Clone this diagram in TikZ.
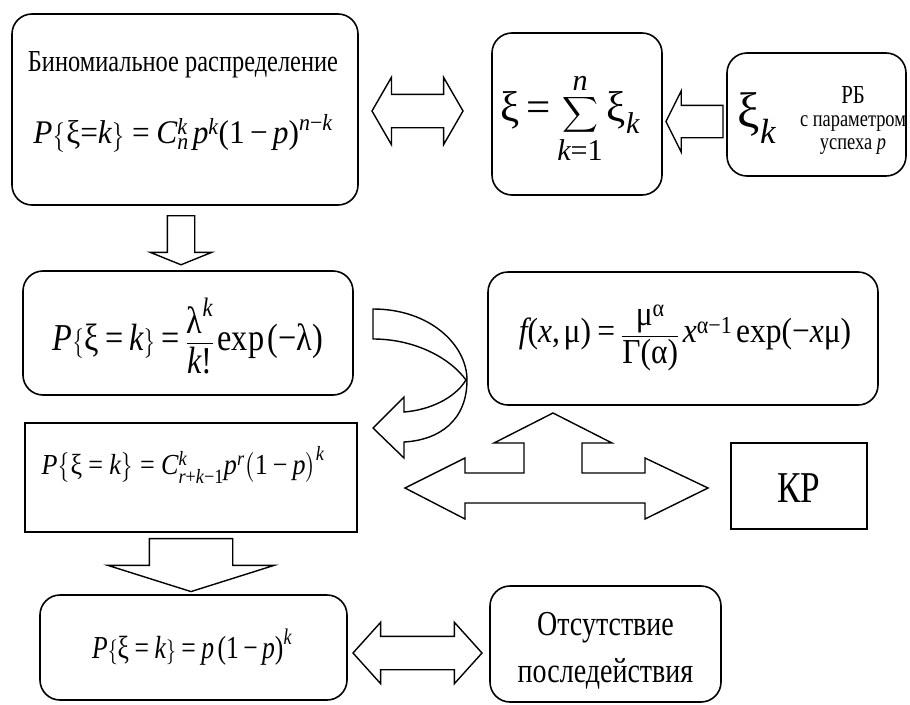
\documentclass[tikz,border=0pt]{standalone}
\usepackage{amsmath}
\usepackage{graphicx}
\usepackage{fontspec}
\setmainfont{Liberation Serif}
\usetikzlibrary{shapes.arrows}
\newcommand\pbsize[2]{\fontsize{#1}{#2}\selectfont}
\newcommand\pbsq[2][0.8]{\scalebox{#1}[1]{#2}}
\newcommand\pbminus{\mathbin{\text{−}}}

\tikzset{pbRound/.style={draw,rectangle,rounded corners=20pt,line width=1.6pt,inner sep=0pt},
 pbSharp/.style={draw,rectangle,line width=1.6pt,inner sep=0pt},
 pbText/.style={inner sep=0pt,align=center},
 pbArrow/.style={draw,fill=white,line width=1.4pt,inner xsep=0pt},
 pbBlock/.style={draw,fill=white,line width=1.4pt,line join=miter}}

\begin{document}
\begin{tikzpicture}[x=1pt,y=-1pt]
\useasboundingbox (0,0) rectangle (910,704);
% boxes
\node[pbRound,minimum width=346pt,minimum height=191pt] (bin) at (185,109.5) {};
\node[pbRound,minimum width=170pt,minimum height=162pt] (sum) at (577,114) {};
\node[pbRound,minimum width=179pt,minimum height=123pt] (rb) at (816.5,114.5) {};
\node[pbRound,minimum width=330pt,minimum height=124pt] (poi) at (188,333) {};
\node[pbRound,minimum width=390pt,minimum height=133pt] (gam) at (683,338.5) {};
\node[pbSharp,minimum width=332pt,minimum height=109pt] (nb) at (191,477.5) {};
\node[pbSharp,minimum width=136pt,minimum height=86pt] (kr) at (799,486) {};
\node[pbRound,minimum width=307pt,minimum height=105pt] (geo) at (193.5,647.5) {};
\node[pbRound,minimum width=231pt,minimum height=116pt] (nop) at (605.5,644) {};
% texts
\node[pbText,font=\pbsize{30.5}{30.5}] (binT) at (183,65) {\pbsq{Биномиальное распределение}};
\node[pbText,font=\pbsize{33}{33}] (binF) at (183,133) {\pbsq[0.95]{$\mathit{P}\bigl\{\text{ξ}{\text{=}}\mathit{k}\bigr\}\mathrel{\text{=}}\mathit{C}_{\mathit{n}}^{\mathit{k}}\,\mathit{p}^{\mathit{k}}\text{(1}\pbminus\mathit{p}\text{)}^{\mathit{n}\pbminus\mathit{k}}$}};
\node[pbText,font=\pbsize{43}{43}] (sumF) at (570,118) {$\displaystyle\text{ξ}\mathrel{\text{=}}\sum_{\mathit{k}\text{=1}}^{\mathit{n}}\text{ξ}_{\mathit{k}}$};
\node[pbText,font=\pbsize{50}{50}] (rbX) at (757,118) {$\text{ξ}_{\mathit{k}}$};
\node[pbText,font=\pbsize{23}{23}] (rbT) at (853,120) {\pbsq{\pbsize{26}{23}РБ}\\\pbsq{с параметром}\\\pbsq{успеха \textit{p}}};
\node[pbText,font=\pbsize{38}{38}] (poiF) at (188,336) {\pbsq[0.85]{$\mathit{P}\bigl\{\text{ξ}\mathrel{\text{=}}\mathit{k}\bigr\}\mathrel{\text{=}}\dfrac{\text{λ}^{\mathit{k}}}{\mathit{k}\text{!}}\,\text{exp}\,\text{(−λ)}$}};
\node[pbText,font=\pbsize{35}{35}] (gamF) at (685,338) {\pbsq[0.9]{$\mathit{f}\text{(}\mathit{x}\text{,}\,\text{μ)}\mathrel{\text{=}}\dfrac{\text{μ}^{\text{α}}}{\text{Γ(α)}}\,\mathit{x}^{\text{α}\pbminus\text{1}}\,\text{exp(−}\mathit{x}\text{μ)}$}};
\node[pbText,font=\pbsize{29}{29}] (nbF) at (183,465) {\pbsq[0.9]{$\mathit{P}\bigl\{\text{ξ}\mathrel{\text{=}}\mathit{k}\bigr\}\mathrel{\text{=}}\mathit{C}^{\mathit{k}}_{\mathit{r}\mathbin{\text{+}}\mathit{k}\pbminus\text{1}}\mathit{p}^{\mathit{r}}\bigl(\text{1}\pbminus\mathit{p}\bigr)^{\mathit{k}}$}};
\node[pbText,font=\pbsize{44}{44}] (krT) at (799,488) {\pbsq{КР}};
\node[pbText,font=\pbsize{32}{32}] (geoF) at (192,647) {\pbsq{$\mathit{P}\{\text{ξ}\mathrel{\text{=}}\mathit{k}\}\mathrel{\text{=}}\mathit{p}\,\text{(1}\pbminus\mathit{p}\text{)}^{\mathit{k}}$}};
\node[pbText,font=\pbsize{35}{47}] (nopT) at (605.5,651) {\pbsq{Отсутствие}\\\pbsq{последействия}};
% straight block arrows
\node[pbArrow,double arrow,inner ysep=16pt,minimum height=91pt,double arrow head extend=17pt,double arrow tip angle=120] (a1) at (417.5,111) {};
\node[pbArrow,single arrow,rotate=180,inner ysep=15.5pt,minimum height=57pt,single arrow head extend=14.5pt,single arrow tip angle=127] (a2) at (698.5,121.5) {};
\node[pbArrow,single arrow,rotate=-90,inner ysep=13pt,minimum height=49pt,single arrow head extend=17pt,single arrow tip angle=136] (a3) at (181,237.5) {};
\node[pbArrow,single arrow,rotate=-90,inner ysep=41pt,minimum height=53pt,single arrow head extend=41.5pt,single arrow tip angle=145] (a5) at (191,558.5) {};
\node[pbArrow,double arrow,inner ysep=16pt,minimum height=129pt,double arrow head extend=14pt,double arrow tip angle=96] (a6) at (417.5,653) {};
% curved arrow
\draw[pbBlock] (373,309) .. controls (430,309) and (467,345) .. (467,380)
 .. controls (467,420) and (440,440) .. (404,442) -- (404,458) -- (373,428) -- (404,397) -- (404,412)
 .. controls (430,410) and (455,398) .. (466,380) .. controls (450,358) and (415,339) .. (373,339) -- cycle;
% three-way arrow
\draw[pbBlock] (405,488) -- (465,458) -- (465,473) -- (524,473) -- (524,443) -- (494,443) -- (553,413)
 -- (612,443) -- (582,443) -- (582,473) -- (645,473) -- (645,458) -- (708,488) -- (645,519)
 -- (645,503) -- (465,503) -- (465,519) -- cycle;
\end{tikzpicture}
\end{document}
